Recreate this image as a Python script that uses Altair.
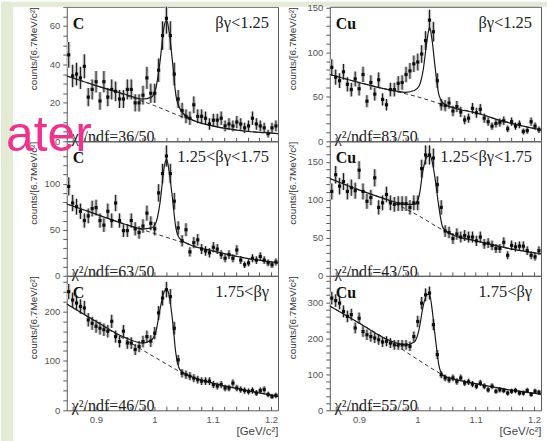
import altair as alt
import pandas as pd

# ---- invariant-mass binning (6.7 MeV/c^2 bins) ---------------------------
MASS_LO, MASS_HI = 0.85, 1.212
BIN_WIDTH = 0.0067
N_BINS = 54
bin_centers = [round(MASS_LO + (i + 0.5) * BIN_WIDTH, 5) for i in range(N_BINS)]

# ---- counts per bin: target x beta-gamma region -------------------------
c_low = [45, 34, 35, 33, 39, 23, 27, 31, 21, 31,
         23, 27, 26, 22, 22, 27, 27, 20, 20, 24,
         33, 25, 25, 37, 55, 64, 55, 35, 22, 16,
         13, 12, 19, 13, 13, 12, 9, 11, 11, 12,
         8, 9, 8, 10, 9, 7, 8, 12, 9, 8,
         7, 4, 7, 8]
cu_low = [83, 72, 68, 78, 64, 58, 70, 59, 75, 45,
          66, 53, 69, 47, 41, 58, 58, 65, 66, 75,
          79, 87, 89, 98, 113, 136, 123, 68, 41, 40,
          43, 34, 39, 33, 24, 26, 37, 32, 36, 26,
          22, 17, 20, 21, 23, 14, 22, 17, 19, 11,
          12, 22, 17, 13]
c_mid = [97, 79, 75, 70, 60, 65, 73, 74, 60, 55,
         70, 60, 79, 60, 49, 49, 60, 51, 47, 54,
         68, 57, 51, 90, 111, 130, 111, 81, 52, 38,
         50, 26, 36, 39, 29, 27, 25, 31, 29, 23,
         19, 23, 19, 28, 17, 12, 14, 19, 17, 21,
         17, 14, 12, 15]
cu_mid = [111, 133, 118, 124, 111, 116, 112, 139, 111, 98,
          103, 129, 90, 96, 107, 96, 94, 95, 95, 95,
          90, 96, 96, 141, 159, 159, 155, 120, 90, 59,
          57, 49, 55, 51, 53, 51, 51, 46, 51, 42,
          43, 40, 36, 36, 44, 27, 40, 38, 39, 39,
          33, 27, 25, 33]
c_high = [240, 223, 217, 210, 207, 183, 176, 170, 166, 163,
          160, 180, 149, 139, 160, 136, 136, 123, 129, 139,
          149, 140, 156, 197, 227, 244, 230, 166, 102, 75,
          72, 69, 65, 62, 59, 59, 59, 52, 49, 52,
          45, 45, 55, 45, 42, 40, 38, 40, 35, 40,
          42, 32, 28, 30]
cu_high = [312, 305, 298, 275, 261, 266, 229, 256, 219, 210,
           205, 201, 196, 190, 192, 187, 182, 182, 182, 182,
           178, 205, 247, 298, 321, 326, 238, 155, 99, 90,
           85, 90, 80, 90, 76, 79, 73, 67, 76, 67,
           57, 67, 53, 57, 55, 48, 53, 55, 48, 48,
           55, 44, 53, 50]

# ---- fitted curves (signal + background) and background only ------------
FIT_X = [0.85, 0.90, 0.95, 0.98, 0.995, 1.003, 1.010, 1.017, 1.021,
         1.025, 1.031, 1.037, 1.044, 1.06, 1.10, 1.15, 1.212]
fit_c_low = [34, 29, 24.5, 22, 23, 28, 42, 60, 63, 58, 42, 24, 17, 12, 8, 5.5, 4]
fit_cu_low = [75, 66, 58, 55, 57, 62, 80, 115, 128, 115, 80, 52, 43, 38, 32, 22, 13]
fit_c_mid = [78, 67, 56, 51, 52, 58, 80, 118, 127, 115, 85, 52, 40, 34, 27, 20, 14]
fit_cu_mid = [128, 113, 100, 94, 94, 105, 140, 157, 158, 152, 125, 90, 63, 54, 46, 37, 29]
fit_c_high = [215, 180, 147, 136, 142, 160, 205, 240, 244, 235, 185, 115, 82, 70, 55, 42, 28]
fit_cu_high = [290, 243, 196, 182, 190, 225, 290, 322, 322, 285, 200, 125, 97, 88, 74, 59, 45]

BKG_X = [0.85, 0.90, 0.95, 1.00, 1.05, 1.10, 1.15, 1.212]
bkg_c_low = [34, 29, 24, 18.6, 12.5, 8, 5.5, 4]
bkg_cu_low = [75, 66, 58, 50, 40, 32, 22, 13]
bkg_c_mid = [78, 67, 56, 46, 36, 27, 20, 14]
bkg_cu_mid = [128, 113, 99, 80, 58, 46, 37, 29]
bkg_c_high = [215, 179, 143, 108, 75, 55, 42, 28]
bkg_cu_high = [290, 243, 195, 142, 94, 74, 59, 45]

# ---- axis ticks -----------------------------------------------------------
X_TICKS = [0.86, 0.88, 0.9, 0.92, 0.94, 0.96, 0.98, 1.0, 1.02, 1.04,
           1.06, 1.08, 1.1, 1.12, 1.14, 1.16, 1.18, 1.2]
X_LABELED = [0.9, 1.0, 1.1, 1.2]

# ---- panels ---------------------------------------------------------------
panels = [
    dict(n=c_low, fit=fit_c_low, bkg=bkg_c_low, target="C", cut="βγ<1.25",
         chi2="χ²/ndf=36/50", ymax=70, minor=5, major=20, col=0, row=0),
    dict(n=cu_low, fit=fit_cu_low, bkg=bkg_cu_low, target="Cu", cut="βγ<1.25",
         chi2="χ²/ndf=83/50", ymax=151, minor=10, major=50, col=1, row=0),
    dict(n=c_mid, fit=fit_c_mid, bkg=bkg_c_mid, target="C", cut="1.25<βγ<1.75",
         chi2="χ²/ndf=63/50", ymax=146, minor=10, major=50, col=0, row=1),
    dict(n=cu_mid, fit=fit_cu_mid, bkg=bkg_cu_mid, target="Cu", cut="1.25<βγ<1.75",
         chi2="χ²/ndf=43/50", ymax=177, minor=10, major=50, col=1, row=1),
    dict(n=c_high, fit=fit_c_high, bkg=bkg_c_high, target="C", cut="1.75<βγ",
         chi2="χ²/ndf=46/50", ymax=272, minor=20, major=100, col=0, row=2),
    dict(n=cu_high, fit=fit_cu_high, bkg=bkg_cu_high, target="Cu", cut="1.75<βγ",
         chi2="χ²/ndf=55/50", ymax=374, minor=20, major=100, col=1, row=2),
]

W, H = 212, 135
COL_GAP = 52
LEFT = 66          # distance from page edge to the left frames
TOP = 5            # distance from page edge to the top frames
PAGE_W, PAGE_H = 548, 441
BOX_HALF = 0.0029

GREEN = "#e3ebd5"
PINK = "#f2318f"
SERIF = "Liberation Serif"
SANS = "Liberation Sans"
FRAME = "#5a5a5a"
LABEL = "#555555"


def text_layer(txt, x, y, **mark):
    return alt.Chart(pd.DataFrame({"t": [txt]})).mark_text(**mark).encode(
        text="t:N", x=alt.value(x), y=alt.value(y)
    )


def make_panel(p):
    bottom = p["row"] == 2
    bins = pd.DataFrame({"m": bin_centers, "v": p["n"]})
    fit = pd.DataFrame({"m": FIT_X, "v": p["fit"]})
    bkg = pd.DataFrame({"m": BKG_X, "v": p["bkg"]})

    xscale = alt.Scale(domain=[MASS_LO, MASS_HI], nice=False, zero=False)
    yscale = alt.Scale(domain=[0, p["ymax"]], nice=False)

    xaxis_kw = dict(
        values=X_TICKS, offset=-4, tickSize=4, tickColor=FRAME, domain=False,
        grid=False, labels=bottom, labelFlush=False, labelOverlap=False,
        labelExpr=f"indexof({X_LABELED}, datum.value) >= 0 ? format(datum.value, '~g') : ''",
        labelFont=SANS, labelFontSize=9.5, labelColor=LABEL, labelPadding=4,
    )
    if bottom:
        xaxis_kw.update(title="[GeV/c²]", titleFont=SANS, titleFontSize=11.5,
                        titleFontWeight="normal", titleColor="#444444",
                        titleAnchor="end", titleAlign="right", titlePadding=2)
    else:
        xaxis_kw.update(title=None)
    xaxis = alt.Axis(**xaxis_kw)

    yaxis = alt.Axis(
        values=list(range(0, int(p["ymax"]) + 1, p["minor"])),
        labelExpr=f"datum.value % {p['major']} === 0 ? format(datum.value, 'd') : ''",
        tickSize=4, tickColor=FRAME, domain=False, grid=False,
        labelFont=SANS, labelFontSize=9.5, labelColor=LABEL, labelPadding=3,
        labelOverlap=False,
        title="counts/[6.7MeV/c²]", titleFont=SANS, titleFontSize=10,
        titleFontWeight="normal", titleColor="#333333", titleAngle=-90,
        titleAlign="right", titleBaseline="middle",
        titleX=-33 if p["col"] == 0 else -37, titleY=0,
    )

    err_calc = dict(lo="datum.v - sqrt(datum.v)", hi="datum.v + sqrt(datum.v)")

    boxes = alt.Chart(bins).transform_calculate(
        m0=f"datum.m - {BOX_HALF}", m1=f"datum.m + {BOX_HALF}", **err_calc
    ).mark_rect(color="#c4c4c4", clip=True).encode(
        x=alt.X("m0:Q", scale=xscale, axis=xaxis), x2="m1:Q",
        y=alt.Y("lo:Q", scale=yscale, axis=yaxis), y2="hi:Q",
    )
    bkg_line = alt.Chart(bkg).mark_line(
        color="#333333", strokeWidth=1, strokeDash=[4, 3], interpolate="monotone"
    ).encode(
        x=alt.X("m:Q", scale=xscale, axis=xaxis),
        y=alt.Y("v:Q", scale=yscale, axis=yaxis),
    )
    fit_line = alt.Chart(fit).mark_line(
        color="#1a1a1a", strokeWidth=1.2, interpolate="monotone", clip=True
    ).encode(
        x=alt.X("m:Q", scale=xscale, axis=xaxis),
        y=alt.Y("v:Q", scale=yscale, axis=yaxis),
    )
    errs = alt.Chart(bins).transform_calculate(**err_calc).mark_rule(
        color="#1a1a1a", strokeWidth=1, clip=True
    ).encode(
        x=alt.X("m:Q", scale=xscale, axis=xaxis),
        y=alt.Y("lo:Q", scale=yscale, axis=yaxis), y2="hi:Q",
    )
    pts = alt.Chart(bins).mark_square(size=10, color="#0d0d0d", opacity=1).encode(
        x=alt.X("m:Q", scale=xscale, axis=xaxis),
        y=alt.Y("v:Q", scale=yscale, axis=yaxis),
    )

    layers = [boxes, bkg_line, fit_line, errs, pts,
              text_layer(p["target"], 6, 17, font=SERIF, fontSize=16,
                         fontWeight="bold", color="#111111", align="left"),
              text_layer(p["cut"], W - 9, 16, font=SERIF, fontSize=16.5,
                         color="#222222", align="right"),
              text_layer(p["chi2"], 5, H - 4, font=SERIF, fontSize=16,
                         color="#222222", align="left")]

    # slide surroundings: green margin strips and the overlapping headline
    if p["col"] == 0 and p["row"] == 0:
        strip = pd.DataFrame({"k": [0]})
        layers.insert(0, alt.Chart(strip).mark_rect(color=GREEN).encode(
            x=alt.value(-LEFT), x2=alt.value(PAGE_W - LEFT),
            y=alt.value(-TOP), y2=alt.value(0)))
        layers.insert(0, alt.Chart(strip).mark_rect(color=GREEN).encode(
            x=alt.value(-LEFT), x2=alt.value(12 - LEFT),
            y=alt.value(-TOP), y2=alt.value(PAGE_H - TOP)))
    if p["col"] == 0 and p["row"] == 1:
        layers.append(text_layer("ater", -61, 10, font=SANS, fontSize=50,
                                 color=PINK, align="left", baseline="alphabetic"))

    return alt.layer(*layers).properties(width=W, height=H)


chart = alt.concat(
    *[make_panel(p) for p in panels],
    columns=2, spacing={"row": 0, "column": COL_GAP}, bounds="flush",
).configure(background="white", padding=0).configure_view(
    stroke=FRAME, strokeWidth=1
)

chart.save("out.html", embed_options={"renderer": "svg", "actions": False})
